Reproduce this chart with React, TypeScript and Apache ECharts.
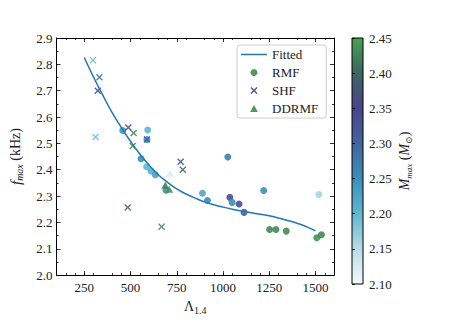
import React, { useEffect, useRef } from 'react';
import * as echarts from 'echarts';

// Fitted curve
const fitLambda = [250, 300, 350, 400, 450, 500, 550, 600, 650, 700, 750, 800, 850, 900, 950, 1000, 1050, 1100, 1150, 1200, 1250, 1300, 1350, 1400, 1450, 1500];
const fitFreq = [2.826, 2.752, 2.683, 2.618, 2.561, 2.508, 2.46, 2.418, 2.381, 2.352, 2.327, 2.308, 2.292, 2.278, 2.267, 2.258, 2.25, 2.243, 2.237, 2.231, 2.225, 2.217, 2.207, 2.197, 2.184, 2.168];

// RMF
const rmfLambda = [458, 593, 589, 557, 587, 611, 634, 692, 889, 916, 1026, 1037, 1049, 1087, 1114, 1220, 1518, 1252, 1286, 1342, 1507, 1532];
const rmfFreq = [2.549, 2.551, 2.515, 2.442, 2.411, 2.395, 2.381, 2.322, 2.311, 2.283, 2.448, 2.295, 2.276, 2.27, 2.238, 2.321, 2.306, 2.173, 2.173, 2.167, 2.142, 2.153];
const rmfMass = [2.24, 2.2, 2.25, 2.25, 2.2, 2.21, 2.23, 2.25, 2.22, 2.25, 2.27, 2.33, 2.25, 2.33, 2.3, 2.25, 2.16, 2.43, 2.43, 2.43, 2.44, 2.43];

// SHF
const shfLambda = [297, 332, 323, 311, 488, 589, 771, 485, 517, 512, 783, 668];
const shfFreq = [2.816, 2.751, 2.70, 2.524, 2.56, 2.515, 2.43, 2.257, 2.539, 2.49, 2.40, 2.184];
const shfMass = [2.19, 2.27, 2.33, 2.19, 2.33, 2.31, 2.33, 2.39, 2.43, 2.44, 2.41, 2.43];

// DDRMF
const ddLambda = [713, 688, 709];
const ddFreq = [2.387, 2.341, 2.326];
const ddMass = [2.12, 2.42, 2.44];

// Tick values
const xTickValues = [250, 500, 750, 1000, 1250, 1500];

// Colour map (from M = 2.10 to 2.45)
const cmap = ['#f4f9fb', '#b8dce7', '#62b6d0', '#3a8fba', '#4563a0', '#48458b', '#3d6562', '#4aa050'];

const SERIF = '"Liberation Serif", "DejaVu Serif", serif';
const CROSS = 'path://M1.4,0L5,3.6L8.6,0L10,1.4L6.4,5L10,8.6L8.6,10L5,6.4L1.4,10L0,8.6L3.6,5L0,1.4Z';
const TRI = 'path://M5,0L10,9L0,9Z';
const LINE_ICON = 'path://M0,0H26V1.5H0Z';

const zip3 = (a: number[], b: number[], c: number[]) => a.map((v, i) => [v, b[i], c[i]]);

export default function App() {
  const ref = useRef<HTMLDivElement>(null);
  useEffect(() => {
    if (!ref.current) return;
    const chart = echarts.init(ref.current, null, { renderer: 'svg' });
    const tickStyle = { color: '#000', width: 0.8 };
    const xCommon = {
      type: 'value' as const, min: 100, max: 1600, interval: 250,
      splitLine: { show: false },
      axisLine: { show: true, onZero: false, lineStyle: { color: '#000', width: 1 } },
      axisTick: { show: true, inside: true, length: 4, lineStyle: tickStyle, customValues: xTickValues },
      minorTick: { show: true, splitNumber: 5, length: 2, lineStyle: tickStyle },
    };
    const yCommon = {
      type: 'value' as const, min: 2.0, max: 2.9, interval: 0.1,
      splitLine: { show: false },
      axisLine: { show: true, onZero: false, lineStyle: { color: '#000', width: 1 } },
      axisTick: { show: true, inside: true, length: 4, lineStyle: tickStyle },
      minorTick: { show: true, splitNumber: 2, length: 2, lineStyle: tickStyle },
    };
    const labelFont = { fontFamily: SERIF, fontSize: 13, color: '#222' };
    const grad = new echarts.graphic.LinearGradient(0, 0, 0, 1,
      cmap.slice().reverse().map((c, i) => ({ offset: i / (cmap.length - 1), color: c })));
    chart.setOption({
      animation: false,
      backgroundColor: '#fff',
      textStyle: { fontFamily: SERIF },
      grid: [
        { left: 56, top: 38, width: 278, height: 246, show: false },
        { left: 352, top: 38, width: 11, height: 246, show: true, backgroundColor: grad, borderColor: '#000', borderWidth: 1 },
      ],
      xAxis: [
        {
          ...xCommon, gridIndex: 0, position: 'bottom',
          axisLabel: { ...labelFont, margin: 6, customValues: xTickValues, formatter: (v: number) => String(v) },
          name: '{n|Λ}{s|1.4}', nameLocation: 'middle', nameGap: 20,
          nameTextStyle: {
            rich: {
              n: { fontFamily: SERIF, fontSize: 14, color: '#222', lineHeight: 18 },
              s: { fontFamily: SERIF, fontSize: 10, color: '#222', verticalAlign: 'bottom', lineHeight: 12 },
            },
          },
        },
        { ...xCommon, gridIndex: 0, position: 'top', axisLabel: { show: false } },
        { type: 'value', gridIndex: 1, min: 0, max: 1, show: false },
      ],
      yAxis: [
        {
          ...yCommon, gridIndex: 0, position: 'left',
          axisLabel: { ...labelFont, margin: 4, formatter: (v: number) => v.toFixed(1) },
          name: '{i|f}{s|max} (kHz)', nameLocation: 'middle', nameGap: 32,
          nameTextStyle: {
            rich: {
              i: { fontFamily: SERIF, fontSize: 15, fontStyle: 'italic', color: '#222', lineHeight: 18 },
              s: { fontFamily: SERIF, fontSize: 10, fontStyle: 'italic', color: '#222', verticalAlign: 'bottom', lineHeight: 12 },
            },
            fontFamily: SERIF, fontSize: 14, color: '#222',
          },
        },
        { ...yCommon, gridIndex: 0, position: 'right', axisLabel: { show: false } },
        {
          type: 'value', gridIndex: 1, position: 'right', min: 2.1, max: 2.45, interval: 0.05,
          splitLine: { show: false },
          axisLine: { show: false },
          axisTick: { show: true, inside: false, length: 3, lineStyle: tickStyle },
          axisLabel: { ...labelFont, margin: 6, formatter: (v: number) => v.toFixed(2) },
          name: '{i|M}{s|max} ({i|M}{s|⊙})', nameLocation: 'middle', nameGap: 32,
          nameTextStyle: {
            fontFamily: SERIF, fontSize: 14, color: '#222',
            rich: {
              i: { fontFamily: SERIF, fontSize: 14, fontStyle: 'italic', color: '#222', lineHeight: 18 },
              s: { fontFamily: SERIF, fontSize: 9, fontStyle: 'italic', color: '#222', verticalAlign: 'bottom', lineHeight: 12 },
            },
          },
        },
      ],
      visualMap: {
        type: 'continuous', show: false, min: 2.1, max: 2.45, dimension: 2,
        seriesIndex: [1, 2, 3], inRange: { color: cmap },
      },
      legend: {
        left: 237, top: 45, orient: 'vertical',
        itemWidth: 26, itemHeight: 7, itemGap: 5,
        padding: [3, 8, 3, 4],
        borderColor: '#ccc', borderWidth: 1, borderRadius: 3,
        backgroundColor: 'rgba(255,255,255,0.8)',
        textStyle: { fontFamily: SERIF, fontSize: 13, color: '#222' },
        data: [
          { name: 'Fitted', icon: LINE_ICON, itemStyle: { color: '#1f77b4' } },
          { name: 'RMF', icon: 'circle', itemStyle: { color: '#3d8f46' } },
          { name: 'SHF', icon: CROSS, itemStyle: { color: '#3d3d8a' } },
          { name: 'DDRMF', icon: TRI, itemStyle: { color: '#3d8f46' } },
        ],
      },
      series: [
        {
          name: 'Fitted', type: 'line', xAxisIndex: 0, yAxisIndex: 0, smooth: true,
          symbol: 'none', showSymbol: false,
          lineStyle: { color: '#1f77b4', width: 1.5 }, itemStyle: { color: '#1f77b4' },
          data: fitLambda.map((x, i) => [x, fitFreq[i]]),
        },
        {
          name: 'RMF', type: 'scatter', symbol: 'circle', symbolSize: 7,
          itemStyle: { color: '#3d8f46', opacity: 0.9 },
          data: zip3(rmfLambda, rmfFreq, rmfMass),
        },
        {
          name: 'SHF', type: 'scatter', symbol: CROSS, symbolSize: 7,
          itemStyle: { color: '#3d3d8a', opacity: 0.9 },
          data: zip3(shfLambda, shfFreq, shfMass),
        },
        {
          name: 'DDRMF', type: 'scatter', symbol: TRI, symbolSize: [8, 7],
          itemStyle: { color: '#3d8f46', opacity: 0.9 },
          data: zip3(ddLambda, ddFreq, ddMass),
        },
      ],
    });
    return () => chart.dispose();
  }, []);
  return <div ref={ref} style={{ position: 'fixed', left: 0, top: 0, width: 449, height: 320 }} />;
}
